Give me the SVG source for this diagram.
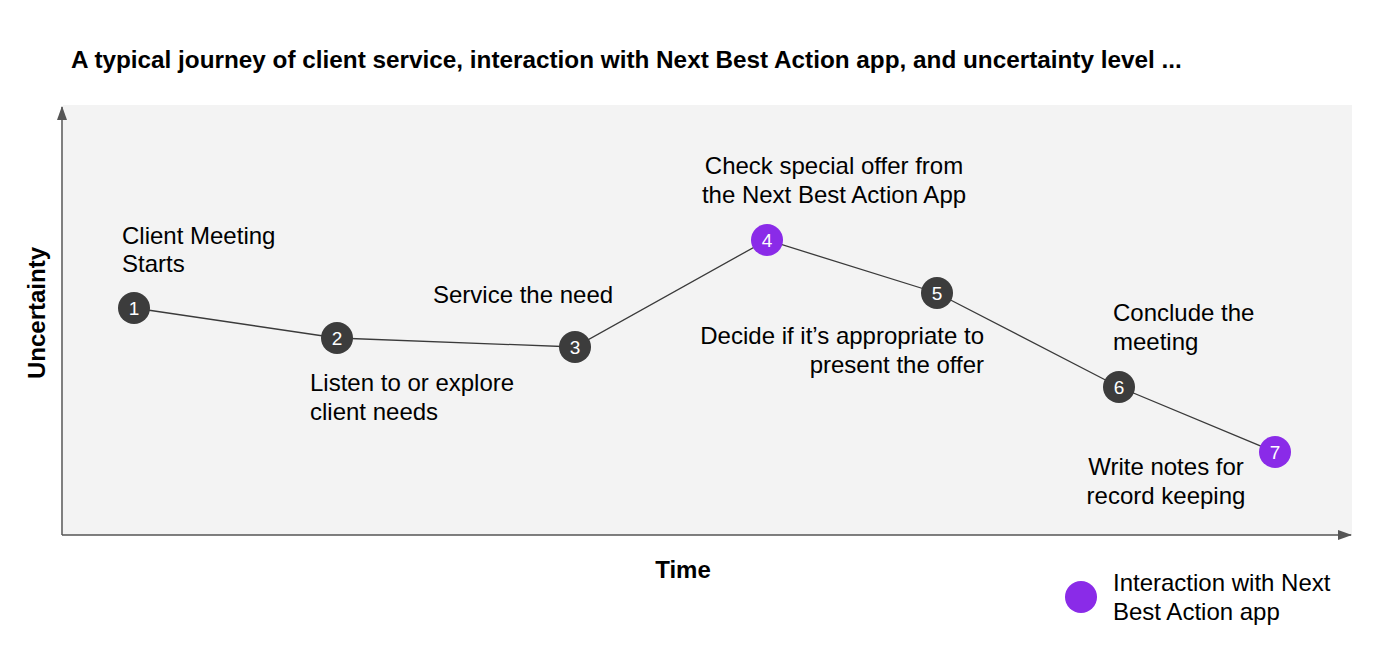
<svg xmlns="http://www.w3.org/2000/svg" width="1400" height="657" viewBox="0 0 1400 657">
<defs>
<style>
.t{font-family:"Liberation Sans",Arial,sans-serif;font-size:24px;fill:#000}
.b{font-family:"Liberation Sans",Arial,sans-serif;font-weight:bold;font-size:24px;fill:#000}
.n{font-family:"Liberation Sans",Arial,sans-serif;font-size:19px;fill:#fff;text-anchor:middle}
.dk{fill:#3c3c3c}
.pu{fill:#8a2be8}
.ln{stroke:#3a3a3a;stroke-width:1.3;fill:none}
.ax{stroke:#555;stroke-width:1.5;fill:none}
</style>
<marker id="ah" viewBox="0 0 14 10" refX="13" refY="5" markerWidth="14" markerHeight="10" markerUnits="userSpaceOnUse" orient="auto">
<path d="M0,0 L14,5 L0,10 z" fill="#555"/>
</marker>
</defs>
<rect width="1400" height="657" fill="#fff"/>
<rect x="63" y="105" width="1289" height="430" fill="#f3f3f3"/>
<text class="b" x="71" y="68" style="font-size:24.3px">A typical journey of client service, interaction with Next Best Action app, and uncertainty level ...</text>
<g id="axes">
<line class="ax" x1="62" y1="535" x2="62" y2="107" marker-end="url(#ah)"/>
<line class="ax" x1="62" y1="535" x2="1351" y2="535" marker-end="url(#ah)"/>
<text class="b" transform="translate(45,313) rotate(-90)" text-anchor="middle">Uncertainty</text>
<text class="b" x="683" y="578" text-anchor="middle">Time</text>
</g>
<g id="connectors">
<polyline class="ln" points="134,308 337,338 575,347 767,240 937,293 1119,387 1275,452"/>
</g>
<g id="node1"><circle class="dk" cx="134" cy="308" r="16"/><text class="n" x="134" y="315">1</text>
<text class="t" x="122" y="244">Client Meeting</text><text class="t" x="122" y="272">Starts</text></g>
<g id="node2"><circle class="dk" cx="337" cy="338" r="16"/><text class="n" x="337" y="345">2</text>
<text class="t" x="310" y="391">Listen to or explore</text><text class="t" x="310" y="420">client needs</text></g>
<g id="node3"><circle class="dk" cx="575" cy="347" r="16"/><text class="n" x="575" y="354">3</text>
<text class="t" x="433" y="303">Service the need</text></g>
<g id="node4"><circle class="pu" cx="767" cy="240" r="16"/><text class="n" x="767" y="247">4</text>
<text class="t" x="834" y="174" text-anchor="middle">Check special offer from</text><text class="t" x="834" y="203" text-anchor="middle">the Next Best Action App</text></g>
<g id="node5"><circle class="dk" cx="937" cy="293" r="16"/><text class="n" x="937" y="300">5</text>
<text class="t" x="984" y="344" text-anchor="end">Decide if it’s appropriate to</text><text class="t" x="984" y="373" text-anchor="end">present the offer</text></g>
<g id="node6"><circle class="dk" cx="1119" cy="387" r="16"/><text class="n" x="1119" y="394">6</text>
<text class="t" x="1113" y="321">Conclude the</text><text class="t" x="1113" y="350">meeting</text></g>
<g id="node7"><circle class="pu" cx="1275" cy="452" r="16"/><text class="n" x="1275" y="459">7</text>
<text class="t" x="1166" y="475" text-anchor="middle">Write notes for</text><text class="t" x="1166" y="504" text-anchor="middle">record keeping</text></g>
<g id="legend"><circle class="pu" cx="1081" cy="597" r="16"/>
<text class="t" x="1113" y="591">Interaction with Next</text><text class="t" x="1113" y="620">Best Action app</text></g>
</svg>
